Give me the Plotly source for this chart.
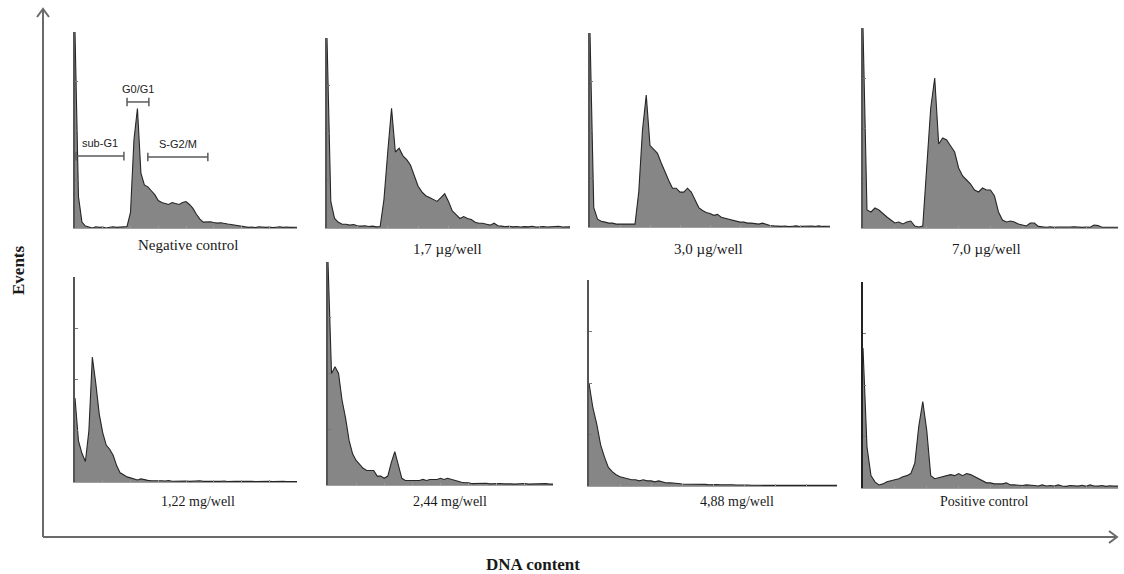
import plotly.graph_objects as go

W, H = 1124, 574

# ---------------- data (relative events, 64 channel bins per panel) ----------------
panel_labels = ["Negative control", "1,7 µg/well", "3,0 µg/well", "7,0 µg/well",
                "1,22 mg/well", "2,44 mg/well", "4,88 mg/well", "Positive control"]

neg_control = [100, 16, 3, 1,
               0.5, 0, 0.6, 0.3, 0.5, 0, 0.4, 0.6, 0.3, 0.5, 0.4, 0.8,
               8, 45, 61, 28, 22, 21, 19, 17, 14, 13,
               12.5, 12, 13, 12.5, 12, 13, 13.5, 12,
               10, 7, 4.5, 3,
               3, 3.2, 2.8, 2.5, 2.7, 2.2, 2, 1.8,
               1.5, 1, 0.8, 0.6,
               0.3, 0.5, 0.2, 0.6, 0.4, 0.3, 0.5, 0.2, 0.4, 0.6, 0.3, 0.5, 0.3, 0.4]

ug_1_7 = [100, 14, 5, 3, 2,
          2, 1.5, 1.8, 1.2, 1, 1.2, 0.8, 1, 0.6, 0.8,
          15, 40, 63, 40, 42, 38, 36, 33, 28, 22, 19,
          17, 16, 15, 14, 16, 18, 14, 9, 7, 5,
          6, 5, 4.5, 3, 2.5, 2.5, 2, 1.5, 2.5, 1.2, 1,
          0.7, 0.9, 0.6, 0.8, 0.5, 0.7, 0.6, 0.9, 0.5, 0.6, 0.8, 0.5, 0.7, 0.6, 0.9, 0.5, 0.6]

ug_3_0 = [100, 10, 4, 3, 2.5, 2, 2, 1.5, 1.5, 1.5, 1.5, 1.2, 1.5,
          18, 50, 68, 42, 40, 38, 33, 28, 24, 20, 20, 18, 18, 20, 18,
          14, 10, 8.5, 7.5, 7, 6, 6.5, 5, 4.5, 4, 3.5, 3, 2.5,
          2.5, 2, 2, 1.8, 1.5, 2, 1.2, 0.8, 0.6,
          0.4, 0.3, 0.5, 0.2, 0.4, 0.6, 0.3, 0.4, 0.2, 0.5, 0.3, 0.6, 0.3, 0.4]

ug_7_0 = [100, 9, 8, 10, 9, 7, 5.5, 4, 2.5, 3, 2, 3, 3.5, 1, 0.5, 1,
          30, 60, 75, 42, 45, 44, 41, 38, 30, 26, 24, 22, 19, 18, 20, 19, 19, 16,
          8, 4, 3, 3.5, 3, 2, 1.5, 1, 2.5, 2.5, 0.8,
          0.5, 0.4, 0.6, 0.3, 0.5, 0.4, 0.3, 0.5, 0.6, 0.4, 0.3, 0.5, 0.4, 1.5, 1.2, 0.4, 0.3, 0.5, 0.4]

mg_1_22 = [41, 20, 14, 10, 25, 61, 48, 33, 24, 18, 16, 13, 8, 4.5, 3.5, 2.5, 2, 1.5, 1, 1.5, 1,
           0.8, 0.6, 0.7, 0.5, 0.6, 0.5, 0.7, 0.4, 0.5, 0.6, 0.4, 0.5, 0.3, 0.5, 0.4, 0.6, 0.3,
           0.4, 0.5, 0.3, 0.4, 0.3, 0.5, 0.2, 0.4, 0.3, 0.3, 0.4, 0.2, 0.3, 0.4, 0.2, 0.3, 0.3,
           0.2, 0.4, 0.2, 0.3, 0.2, 0.3, 0.2, 0.3, 0.2]

mg_2_44 = [100, 50, 53, 50, 38, 30, 20, 14, 11, 9, 7.5, 6.5, 6.5, 6.5, 4, 4, 3, 4, 10, 15, 9, 3, 2, 2,
           2, 2, 2, 2.5, 2, 2.5, 2.5, 2.5, 3, 2.5, 3, 2.5, 2, 1.5, 1.2, 1, 1,
           0.6, 0.7, 0.5, 0.6, 0.8, 0.5, 0.6, 0.4, 0.7, 0.5, 0.6, 0.5, 0.4, 0.6, 0.5, 0.7, 0.4,
           0.5, 0.6, 0.4, 0.5, 0.6, 0.4]

mg_4_88 = [50, 38, 30, 20, 14, 9, 7, 5.5, 4.5, 4, 3.5, 3, 3, 2.5, 3, 2.5, 2.5, 2, 2.5, 2, 1.5, 1.5,
           1.2, 1.2, 1, 1, 1,
           0.8, 0.9, 0.7, 0.8, 0.6, 0.8, 0.7, 0.6, 0.7, 0.5, 0.6, 0.5, 0.6, 0.4, 0.5, 0.4, 0.5,
           0.4, 0.3, 0.4, 0.3, 0.4, 0.3, 0.3, 0.4, 0.3, 0.3, 0.2, 0.3, 0.3, 0.2, 0.3, 0.2, 0.3,
           0.2, 0.2, 0.3]

pos_control = [68, 20, 6, 3, 1.5, 2, 3, 3.5, 4, 4.5, 5.5, 6, 7,
               12, 30, 42, 28, 6, 4.5, 5, 5.5, 6, 6.5, 6, 7, 6, 7, 6.5,
               5.5, 4.5, 3.5, 2.5, 2.5, 2, 2, 2, 2.5, 1.5, 1.5, 1.2, 1.2,
               1.5, 1.5, 1.2, 1, 1.5, 1, 1.2, 0.9, 1.5, 1, 0.8, 1.2, 1, 0.9, 1.3, 0.8, 1.5, 1,
               0.9, 1.2, 0.8, 1.1, 0.9]

series = [neg_control, ug_1_7, ug_3_0, ug_7_0, mg_1_22, mg_2_44, mg_4_88, pos_control]

# phase gates drawn on the negative control panel (channel units / relative events)
gate_labels = ["sub-G1", "G0/G1", "S-G2/M"]
gate_start = [0.3, 15.0, 21.0]
gate_end = [14.1, 21.3, 38.3]
gate_level = [36.7, 64.3, 36.2]

# ---------------- layout (pixels) ----------------
boxes = [(75, 297, 32, 228), (327, 570, 38, 228), (590, 830, 33, 227), (863, 1118, 28, 228),
         (75, 297, 277, 482), (328, 553, 262, 485), (589, 837, 280, 486), (863, 1118, 282, 488)]
label_pos = [(188, 245), (447, 249), (708, 249), (986, 249),
             (198, 501), (450, 501), (737, 501), (984, 501)]
label_size = [15, 15, 15, 15, 14, 14, 14, 14]


def px(x):
    return x / W


def py(y):
    return 1 - y / H


fig = go.Figure()
layout = {}
annotations = []
shapes = []

for i, vals in enumerate(series):
    k = '' if i == 0 else str(i + 1)
    xs = [0] + list(range(len(vals))) + [len(vals)]
    ys = [vals[0]] + list(vals) + [vals[-1]]
    fig.add_trace(go.Scatter(
        x=xs, y=ys, mode='lines',
        line=dict(shape='linear', color='#262626', width=1.1),
        fill='tozeroy', fillcolor='#868686',
        xaxis='x' + k, yaxis='y' + k, hoverinfo='skip'))
    l, r, t, b = boxes[i]
    layout['xaxis' + k] = dict(
        domain=[px(l), px(r)], range=[0, 64], anchor='y' + k,
        showgrid=False, zeroline=False, showline=True, linecolor='#a0a0a0', linewidth=1,
        ticks='inside', ticklen=2, tickcolor='#999999', tickvals=list(range(0, 65, 8)),
        showticklabels=False, fixedrange=True)
    layout['yaxis' + k] = dict(
        domain=[py(b), py(t)], range=[0, 100], anchor='x' + k,
        showgrid=False, zeroline=False, showline=True,
        linecolor='#222222' if i == 7 else '#555555', linewidth=2 if i == 7 else 1.5,
        ticks='inside', ticklen=3, tickcolor='#777777', tickvals=[25, 50, 75],
        showticklabels=False, fixedrange=True)
    lx, ly = label_pos[i]
    annotations.append(dict(
        x=px(lx), y=py(ly), xref='paper', yref='paper', text=panel_labels[i],
        showarrow=False, xanchor='center', yanchor='middle',
        font=dict(family='Liberation Serif', size=label_size[i], color='#1a1a1a')))

# gates on panel 1
for lab, s, e, lv in zip(gate_labels, gate_start, gate_end, gate_level):
    shapes.append(dict(type='line', xref='x', yref='y', x0=s, x1=e, y0=lv, y1=lv,
                       line=dict(color='#5a5a5a', width=1.5)))
    for xe in (s, e):
        shapes.append(dict(type='line', xref='x', yref='y', x0=xe, x1=xe, y0=lv - 2.2, y1=lv + 2.2,
                           line=dict(color='#5a5a5a', width=1.5)))
    annotations.append(dict(x=(s + e) / 2, y=lv + 2.5, xref='x', yref='y', text=lab,
                            showarrow=False, xanchor='center', yanchor='bottom',
                            font=dict(family='Liberation Sans', size=11, color='#222222')))

# big axes arrows
axis_col = '#6a6a6a'
shapes.append(dict(type='line', xref='paper', yref='paper', x0=px(43), y0=py(537), x1=px(43), y1=py(9),
                   line=dict(color=axis_col, width=2)))
shapes.append(dict(type='line', xref='paper', yref='paper', x0=px(43), y0=py(537), x1=px(1117), y1=py(537),
                   line=dict(color=axis_col, width=2)))
shapes.append(dict(type='path', xref='paper', yref='paper',
                   path=f'M {px(37)} {py(17)} L {px(43)} {py(9)} L {px(49)} {py(17)}',
                   line=dict(color=axis_col, width=2)))
shapes.append(dict(type='path', xref='paper', yref='paper',
                   path=f'M {px(1109)} {py(531)} L {px(1117)} {py(537)} L {px(1109)} {py(543)}',
                   line=dict(color=axis_col, width=2)))

annotations.append(dict(x=px(18), y=py(270), xref='paper', yref='paper', text='<b>Events</b>',
                        showarrow=False, textangle=-90, xanchor='center', yanchor='middle',
                        font=dict(family='Liberation Serif', size=17, color='#1a1a1a')))
annotations.append(dict(x=px(533), y=py(564), xref='paper', yref='paper', text='<b>DNA content</b>',
                        showarrow=False, xanchor='center', yanchor='middle',
                        font=dict(family='Liberation Serif', size=17, color='#1a1a1a')))

fig.update_layout(
    width=W, height=H, margin=dict(l=0, r=0, t=0, b=0),
    paper_bgcolor='white', plot_bgcolor='white', showlegend=False,
    annotations=annotations, shapes=shapes, **layout)

fig.write_html(
    "out.html",
    config={'displayModeBar': False},
    post_script="document.body.style.margin='0';document.body.style.padding='0';"
                "document.documentElement.style.overflow='hidden';")
